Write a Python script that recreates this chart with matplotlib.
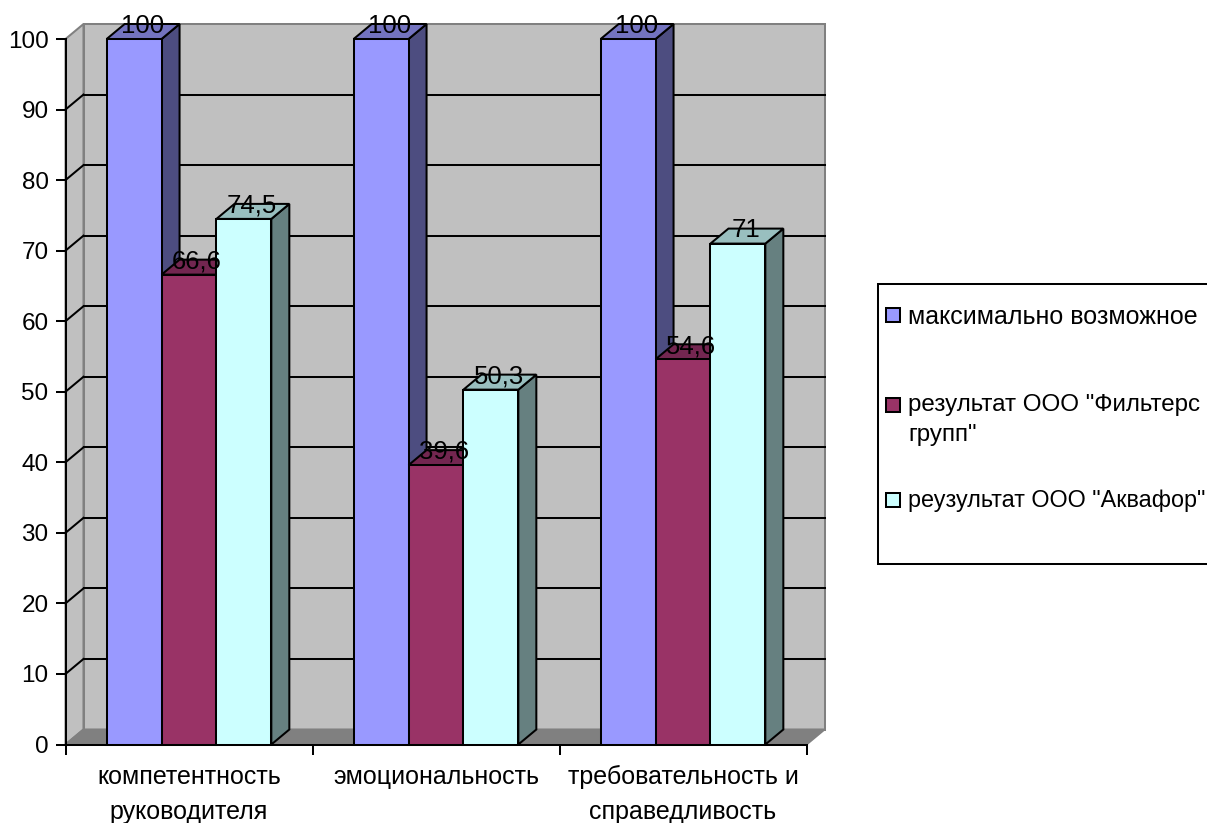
import matplotlib
matplotlib.use("Agg")
import matplotlib.pyplot as plt
from matplotlib.patches import Polygon, Rectangle
from matplotlib.transforms import Affine2D

categories = ["компетентность\nруководителя", "эмоциональность", "требовательность и\nсправедливость"]
series_names = ["максимально возможное", "результат ООО \"Фильтерс\nгрупп\"", "реузультат ООО \"Аквафор\""]
max_possible = [100, 100, 100]
filters_group = [66.6, 39.6, 54.6]
aquaphor = [74.5, 50.3, 71]
y_ticks = list(range(0, 101, 10))

front_colors = ["#9999FF", "#993366", "#CCFFFF"]
top_colors = ["#7373BF", "#732650", "#99BFBF"]
side_colors = ["#4D4D80", "#4D1A33", "#668080"]

W, H = 1207, 823
L, R, T, B = 65.5, 806.5, 39.0, 744.5
plt.rcParams["font.family"] = ["Liberation Sans", "DejaVu Sans"]

fig = plt.figure(figsize=(W / 100, H / 100), dpi=100, facecolor="white")
ax = fig.add_axes([L / W, 1 - B / H, (R - L) / W, (B - T) / H])
ax.set_xlim(0, 3)
ax.set_ylim(0, 100)
ax.patch.set_visible(False)

# oblique depth of the pseudo-3D box, in data units
DX = 18 / ((R - L) / 3)
DY = 15 / ((B - T) / 100)
LW = 1.45


def poly(pts, fc, ec="black", lw=LW, z=2):
    ax.add_patch(Polygon(pts, closed=True, facecolor=fc, edgecolor=ec, linewidth=lw,
                         zorder=z, clip_on=False, joinstyle="miter"))


# walls and floor
poly([(0, 0), (DX, DY), (DX, 100 + DY), (0, 100)], "#C0C0C0", "#808080", z=1)
poly([(DX, DY), (3 + DX, DY), (3 + DX, 100 + DY), (DX, 100 + DY)], "#C0C0C0", "#808080", z=1)
poly([(0, 0), (3, 0), (3 + DX, DY), (DX, DY)], "#808080", "#808080", z=1)

# gridlines on the back and left walls
for v in y_ticks[1:-1]:
    ax.plot([DX, 3 + DX], [v + DY, v + DY], color="black", lw=LW, zorder=1.5, clip_on=False)
    ax.plot([0, DX], [v, v + DY], color="black", lw=LW, zorder=1.5, clip_on=False)

# clustered bars, painted left to right so nearer faces overlap
BAR = 1 / 4.5
GAP = 0.75 * BAR
series = [max_possible, filters_group, aquaphor]
for c in range(len(categories)):
    for s, values in enumerate(series):
        v = values[c]
        x0 = c + GAP + s * BAR
        x1 = x0 + BAR
        poly([(x1, 0), (x1 + DX, DY), (x1 + DX, v + DY), (x1, v)], side_colors[s], z=3)
        poly([(x0, v), (x1, v), (x1 + DX, v + DY), (x0 + DX, v + DY)], top_colors[s], z=3)
        poly([(x0, 0), (x1, 0), (x1, v), (x0, v)], front_colors[s], z=3)

# value labels sit over the top face of each bar
for c in range(len(categories)):
    for s, values in enumerate(series):
        v = values[c]
        x0 = c + GAP + s * BAR
        ax.text(x0 + BAR / 2 + DX / 2 - 0.004, v + DY + 0.1, f"{v:g}".replace(".", ","), ha="center",
                va="center_baseline", fontsize=18.5, color="black", zorder=5, clip_on=False)

for side in ("top", "right"):
    ax.spines[side].set_visible(False)
for side in ("left", "bottom"):
    ax.spines[side].set_linewidth(LW)
    ax.spines[side].set_zorder(4)

ax.set_yticks(y_ticks)
ax.tick_params(axis="y", length=7.2, width=LW, pad=5, labelsize=17.5)
ax.set_xticks([0, 1, 2, 3])
ax.tick_params(axis="x", which="major", length=7.5, width=LW, labelbottom=False)
ax.set_xticks([0.5, 1.5, 2.5], minor=True)
ax.set_xticklabels(categories, minor=True, fontsize=18, linespacing=1.58)
ax.tick_params(axis="x", which="minor", length=0, pad=15)

# legend box runs off the right edge of the canvas
px = Affine2D().scale(1, -1).translate(0, H)
fig.add_artist(Rectangle((877.5, 283.5), 400, 280, transform=px, facecolor="white",
                         edgecolor="black", linewidth=LW))
swatch_tops = [308, 398, 492.5]
label_y = [316.5, 405.5, 500]
legend_sizes = [18, 17.4, 16.8]
for name, color, top, y, size in zip(series_names, front_colors, swatch_tops, label_y, legend_sizes):
    fig.add_artist(Rectangle((885.5, top), 14, 14, transform=px, facecolor=color,
                             edgecolor="black", linewidth=LW))
    lines = name.split("\n")
    for i, line in enumerate(lines):
        fig.text(908 / W, 1 - (y + i * 30) / H, line, ha="left", va="center", fontsize=size, color="black")

fig.savefig("out.png", dpi=100)
